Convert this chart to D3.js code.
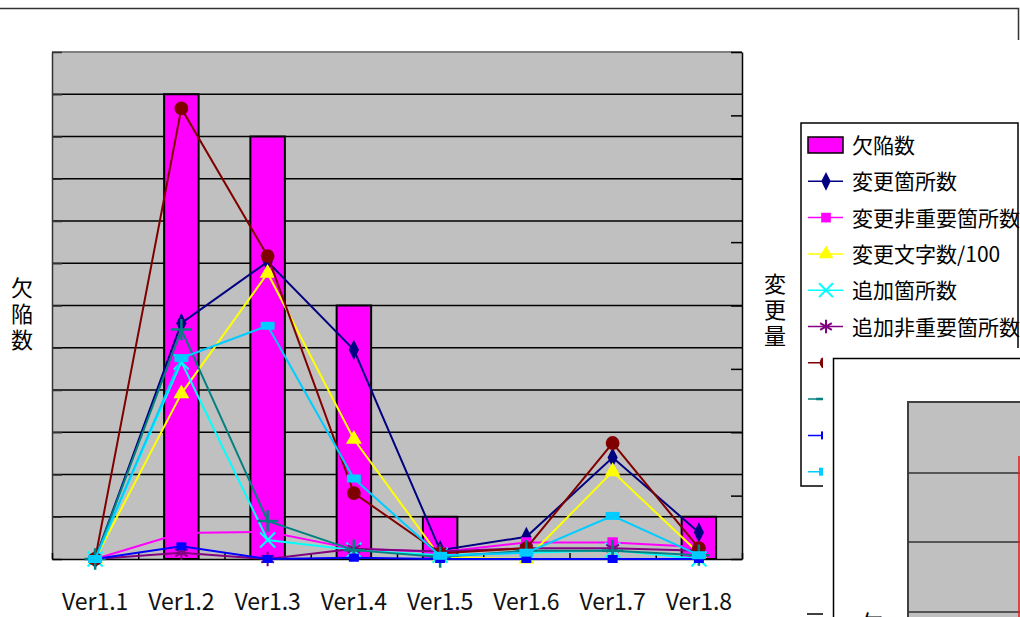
<!DOCTYPE html>
<html><head><meta charset="utf-8">
<script src="https://cdn.jsdelivr.net/npm/d3@7"></script>
<style>
html,body{margin:0;padding:0;background:#fff;}
svg{display:block;}
text{font-family:"Noto Sans CJK JP","Liberation Sans",sans-serif;}
</style></head>
<body>
<svg id="c" width="1020" height="617"></svg>
<script>
const categories = ["Ver1.1","Ver1.2","Ver1.3","Ver1.4","Ver1.5","Ver1.6","Ver1.7","Ver1.8"];
const barName = "欠陥数";
const defects = [0, 11, 10, 6, 1, 0, 0, 1];
const seriesNames = ["変更箇所数","変更非重要箇所数","変更文字数/100","追加箇所数","追加非重要箇所数","","","",""];
const changeCount      = [0, 37.2, 46.9, 33.0, 1.4, 3.5, 16.0, 4.2];
const changeMinor      = [0, 4.1, 4.3, 1.6, 1.1, 2.6, 2.6, 1.9];
const changeChars100   = [0, 26.1, 45.1, 18.9, 0.3, 0, 13.8, 0.9];
const addCount         = [0, 31.1, 3.0, 1.4, 0.6, 1.0, 1.4, 0];
const addMinor         = [0, 1.0, 0, 1.6, 1.2, 1.7, 1.7, 1.3];
const series7          = [0, 71.1, 47.8, 10.4, 0.9, 1.7, 18.3, 1.7];
const series8          = [0, 36.2, 6.0, 1.4, 0.3, 1.3, 1.3, 0.6];
const series9          = [0, 2.0, 0, 0.2, 0, 0, 0, 0];
const series10         = [0, 31.7, 36.8, 12.7, 0.5, 1.0, 6.8, 0.6];
const leftTicks = d3.range(0, 13, 1);
const rightTicks = d3.range(0, 81, 10);

const lineSeries = [
  {name: seriesNames[0], values: changeCount,    color: "#000080", marker: "diamond"},
  {name: seriesNames[1], values: changeMinor,    color: "#ff00ff", marker: "square"},
  {name: seriesNames[2], values: changeChars100, color: "#ffff00", marker: "triangle"},
  {name: seriesNames[3], values: addCount,       color: "#00ffff", marker: "times"},
  {name: seriesNames[4], values: addMinor,       color: "#800080", marker: "asterisk"},
  {name: seriesNames[5], values: series7,        color: "#800000", marker: "circle"},
  {name: seriesNames[6], values: series8,        color: "#008080", marker: "plus"},
  {name: seriesNames[7], values: series9,        color: "#0000ff", marker: "smallrect"},
  {name: seriesNames[8], values: series10,       color: "#00ccff", marker: "rect"}
];

const svg = d3.select("#c");
const L = 52, R = 742, T = 52, B = 559;
const x = d3.scaleBand().domain(categories).range([L, R]);
const xb = d3.scaleLinear().domain([0, categories.length]).range([L, R]);
const yL = d3.scaleLinear().domain([0, 12]).range([B, T]);
const yR = d3.scaleLinear().domain([0, 80]).range([B, T]);
const cx = c => x(c) + x.bandwidth() / 2;

// outer frame fragments
svg.append("path").attr("d", "M0,8.5H1018.5V40").attr("fill","none").attr("stroke","#333").attr("stroke-width",1.5);

// plot background
svg.append("rect").attr("x", L).attr("y", T).attr("width", R - L).attr("height", B - T).attr("fill", "#c0c0c0");
svg.append("line").attr("x1", L).attr("x2", R).attr("y1", T).attr("y2", T).attr("stroke", "#808080").attr("stroke-width", 2);

// gridlines
svg.append("g").selectAll("line").data(leftTicks.filter(t => t > 0 && t < 12)).join("line")
  .attr("x1", L).attr("x2", R).attr("y1", d => yL(d)).attr("y2", d => yL(d))
  .attr("stroke", "#000").attr("stroke-width", 1.5);

// left axis (ticks inward)
svg.append("g").attr("transform", `translate(${L},0)`)
  .call(d3.axisRight(yL).tickValues(leftTicks).tickSize(10).tickSizeOuter(0).tickFormat(""))
  .call(g => g.selectAll("path,line").attr("stroke", "#333").attr("stroke-width", 1.5));

// right axis (ticks inward)
svg.append("g").attr("transform", `translate(${R},0)`)
  .call(d3.axisLeft(yR).tickValues(rightTicks).tickSize(11).tickSizeOuter(0).tickFormat(""))
  .call(g => g.selectAll("path,line").attr("stroke", "#000").attr("stroke-width", 1.5));

// bars
svg.append("g").selectAll("rect").data(categories.map((c, i) => ({c, v: defects[i]})).filter(d => d.v > 0)).join("rect")
  .attr("x", d => cx(d.c) - x.bandwidth() * 0.2)
  .attr("width", x.bandwidth() * 0.4)
  .attr("y", d => yL(d.v))
  .attr("height", d => yL(0) - yL(d.v))
  .attr("fill", "#ff00ff").attr("stroke", "#000").attr("stroke-width", 2);

// bottom axis (ticks at boundaries, pointing up)
svg.append("g").attr("transform", `translate(0,${B})`)
  .call(d3.axisTop(xb).tickValues(d3.range(0, categories.length + 1)).tickSize(6).tickSizeOuter(0).tickFormat(""))
  .call(g => g.selectAll("path,line").attr("stroke", "#000").attr("stroke-width", 1.5));

// markers
function drawMarker(g, type, color, px, py, legend) {
  const s = legend ? 0.85 : 1;
  if (type === "diamond") {
    g.append("path").attr("d", d3.symbol(d3.symbolDiamond, 90 * s)()).attr("transform", `translate(${px},${py}) scale(1,1.15)`).attr("fill", color);
  } else if (type === "square") {
    g.append("path").attr("d", d3.symbol(d3.symbolSquare, 110 * s)()).attr("transform", `translate(${px},${py})`).attr("fill", color);
  } else if (type === "triangle") {
    g.append("path").attr("d", d3.symbol(d3.symbolTriangle, 110 * s)()).attr("transform", `translate(${px},${py})`).attr("fill", color);
  } else if (type === "times") {
    g.append("path").attr("d", d3.symbol(d3.symbolTimes, 150 * s)()).attr("transform", `translate(${px},${py})`).attr("fill", "none").attr("stroke", color).attr("stroke-width", 2);
  } else if (type === "asterisk") {
    g.append("path").attr("d", d3.symbol(d3.symbolAsterisk, 150 * s)()).attr("transform", `translate(${px},${py})`).attr("fill", "none").attr("stroke", color).attr("stroke-width", 2);
  } else if (type === "circle") {
    g.append("path").attr("d", d3.symbol(d3.symbolCircle, 150 * s)()).attr("transform", `translate(${px},${py})`).attr("fill", color);
  } else if (type === "plus") {
    g.append("path").attr("d", d3.symbol(d3.symbolPlus, 150 * s)()).attr("transform", `translate(${px},${py})`).attr("fill", "none").attr("stroke", color).attr("stroke-width", 2.5);
  } else if (type === "smallrect") {
    g.append("rect").attr("x", px - 5).attr("y", py - 4).attr("width", 10).attr("height", 8).attr("fill", color);
  } else if (type === "rect") {
    g.append("rect").attr("x", px - 7).attr("y", py - 4).attr("width", 14).attr("height", 8).attr("fill", color);
  }
}

const lineGen = d3.line().x((d, i) => cx(categories[i])).y(d => yR(d));
lineSeries.forEach(s => {
  const g = svg.append("g");
  g.append("path").attr("d", lineGen(s.values)).attr("fill", "none").attr("stroke", s.color).attr("stroke-width", 2);
  s.values.forEach((v, i) => drawMarker(g, s.marker, s.color, cx(categories[i]), yR(v), false));
});

// category labels
svg.append("g").selectAll("text").data(categories).join("text")
  .attr("x", d => cx(d)).attr("y", 610).attr("text-anchor", "middle")
  .attr("font-family", "Liberation Sans, Arial, sans-serif").attr("font-size", 23).attr("fill", "#111")
  .text(d => d);

// axis titles (vertical, single text each)
function vTitle(str, px, yTop) {
  svg.append("text")
    .attr("x", px).attr("y", yTop)
    .style("writing-mode", "vertical-rl")
    .style("text-orientation", "upright")
    .style("letter-spacing", "4px")
    .attr("font-size", 22).attr("fill", "#000").text(str);
}
vTitle("欠陥数", 22, 277);
vTitle("変更量", 775, 273);

// legend
const lg = svg.append("g");
lg.append("rect").attr("x", 801).attr("y", 123).attr("width", 217).attr("height", 363).attr("fill", "#fff").attr("stroke", "#000").attr("stroke-width", 1.5);
const rowY = i => 145 + i * 36.3;
lg.append("rect").attr("x", 808).attr("y", rowY(0) - 8).attr("width", 35).attr("height", 16).attr("fill", "#ff00ff").attr("stroke", "#000").attr("stroke-width", 1.5);
lg.append("text").attr("x", 852).attr("y", rowY(0) + 8).attr("font-size", 21).text(barName);
lineSeries.forEach((s, i) => {
  const y = rowY(i + 1);
  lg.append("line").attr("x1", 808).attr("x2", 843).attr("y1", y).attr("y2", y).attr("stroke", s.color).attr("stroke-width", 1.5);
  drawMarker(lg, s.marker, s.color, 826, y, true);
  if (s.name) lg.append("text").attr("x", 852).attr("y", y + 8).attr("font-size", 21).text(s.name);
});

// overlapping second chart object (covers part of the legend)
svg.append("rect").attr("x", 823).attr("y", 348).attr("width", 200).attr("height", 280).attr("fill", "#fff");
svg.append("rect").attr("x", 833.5).attr("y", 358.5).attr("width", 200).attr("height", 280).attr("fill", "#fff").attr("stroke", "#000").attr("stroke-width", 1.5);
svg.append("rect").attr("x", 908).attr("y", 402).attr("width", 120).attr("height", 230).attr("fill", "#c0c0c0");
svg.append("path").attr("d", "M908,617V402H1020").attr("fill", "none").attr("stroke", "#404040").attr("stroke-width", 2);
[473, 542, 612].forEach(gy => svg.append("line").attr("x1", 908).attr("x2", 1020).attr("y1", gy).attr("y2", gy).attr("stroke", "#333").attr("stroke-width", 1.5));
svg.append("line").attr("x1", 1019).attr("x2", 1019).attr("y1", 456).attr("y2", 617).attr("stroke", "#e02020").attr("stroke-width", 1.5);
svg.append("line").attr("x1", 807).attr("x2", 823).attr("y1", 614).attr("y2", 614).attr("stroke", "#000").attr("stroke-width", 1.5);
svg.append("text").attr("x", 872).attr("y", 631).attr("text-anchor", "middle").attr("font-size", 22).text("欠");
</script>
</body></html>
